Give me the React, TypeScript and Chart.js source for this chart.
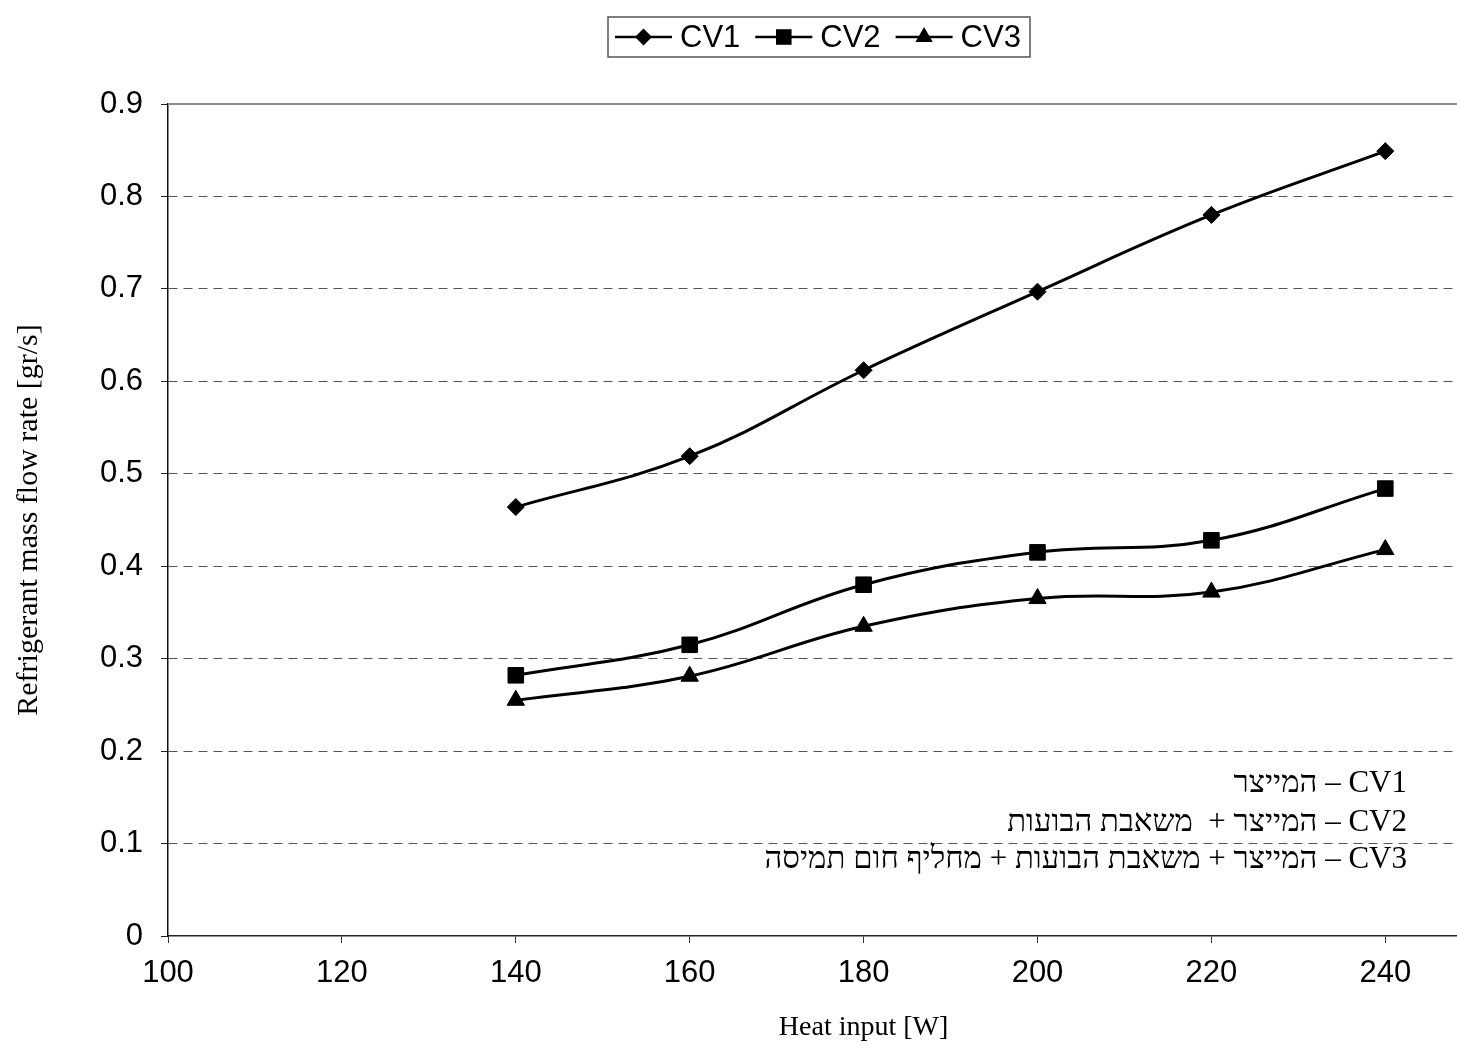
import React, { useEffect, useRef } from 'react';
import { Chart, registerables } from 'chart.js';

Chart.register(...registerables);

// ---- data ----
const heatInput = [140, 160, 180, 200, 220, 240];
const cv1 = [0.464, 0.519, 0.612, 0.697, 0.78, 0.849];
const cv2 = [0.282, 0.315, 0.38, 0.415, 0.428, 0.484];
const cv3 = [0.255, 0.281, 0.335, 0.365, 0.372, 0.418];
const seriesNames = ['CV1', 'CV2', 'CV3'];
const notes = [
  'CV1 – המייצר',
  'CV2 – המייצר +  משאבת הבועות',
  'CV3 – המייצר + משאבת הבועות + מחליף חום תמיסה',
];
const xTitle = 'Heat input [W]';
const yTitle = 'Refrigerant mass flow rate [gr/s]';

const SANS = '"Liberation Sans", Arial, sans-serif';
const SERIF = '"Liberation Serif", "Times New Roman", serif';

type Shape = 'rectRot' | 'rect' | 'triangle';
const shapes: Shape[] = ['rectRot', 'rect', 'triangle'];
const radii = [8.5, 11, 10];

function drawMarker(ctx: CanvasRenderingContext2D, shape: Shape, x: number, y: number, r: number) {
  ctx.beginPath();
  if (shape === 'rectRot') {
    ctx.moveTo(x, y - r);
    ctx.lineTo(x + r, y);
    ctx.lineTo(x, y + r);
    ctx.lineTo(x - r, y);
  } else if (shape === 'rect') {
    const s = Math.SQRT1_2 * r;
    ctx.rect(x - s, y - s, 2 * s, 2 * s);
  } else {
    const h = r;
    ctx.moveTo(x, y - h);
    ctx.lineTo(x + h * 0.866, y + h * 0.5);
    ctx.lineTo(x - h * 0.866, y + h * 0.5);
  }
  ctx.closePath();
  ctx.fill();
}

const decorPlugin = {
  id: 'decor',
  afterDraw(chart: any) {
    const ctx: CanvasRenderingContext2D = chart.ctx;
    const area = chart.chartArea;
    ctx.save();
    // top border of plot
    ctx.strokeStyle = '#8c8c8c';
    ctx.lineWidth = 2;
    ctx.beginPath();
    ctx.moveTo(area.left, area.top);
    ctx.lineTo(area.right, area.top);
    ctx.stroke();

    // legend
    ctx.font = `31px ${SANS}`;
    const boxL = 608, boxT = 17, boxR = 1030, boxB = 57;
    const cy = (boxT + boxB) / 2;
    ctx.strokeStyle = '#555';
    ctx.lineWidth = 1.5;
    ctx.strokeRect(boxL, boxT, boxR - boxL, boxB - boxT);
    let x = boxL + 7;
    ctx.textBaseline = 'middle';
    ctx.textAlign = 'left';
    ctx.fillStyle = '#000';
    seriesNames.forEach((name, i) => {
      ctx.strokeStyle = '#000';
      ctx.lineWidth = 2.5;
      ctx.beginPath();
      ctx.moveTo(x, cy);
      ctx.lineTo(x + 57, cy);
      ctx.stroke();
      drawMarker(ctx, shapes[i], x + 28.5, cy, radii[i]);
      x += 65;
      ctx.fillText(name, x, cy + 1);
      x += ctx.measureText(name).width + 15;
    });

    // annotation text (RTL)
    ctx.font = `31px ${SERIF}`;
    (ctx as any).direction = 'rtl';
    ctx.textAlign = 'right';
    const ys = [784, 823, 860];
    notes.forEach((t, i) => {
      ctx.fillText(t, 1407, ys[i]);
    });
    ctx.restore();
  },
};

export default function App() {
  const ref = useRef<HTMLCanvasElement | null>(null);
  useEffect(() => {
    if (!ref.current) return;
    const mk = (vals: number[], i: number) => ({
      label: seriesNames[i],
      data: heatInput.map((h, k) => ({ x: h, y: vals[k] })),
      borderColor: '#000',
      backgroundColor: '#000',
      borderWidth: 3,
      tension: 0.4,
      pointStyle: shapes[i],
      pointRadius: radii[i],
      pointHoverRadius: radii[i],
      pointBackgroundColor: '#000',
      pointBorderColor: '#000',
      pointBorderWidth: 1,
      fill: false,
    });
    const chart = new Chart(ref.current, {
      type: 'line',
      data: { datasets: [mk(cv1, 0), mk(cv2, 1), mk(cv3, 2)] },
      options: {
        animation: false,
        responsive: false,
        maintainAspectRatio: false,
        layout: { padding: { top: 104, left: 0, right: 40.8, bottom: 0 } },
        plugins: { legend: { display: false }, tooltip: { enabled: false } },
        scales: {
          x: {
            type: 'linear',
            min: 100,
            max: 260,
            ticks: { stepSize: 20, padding: 12, color: '#000', font: { family: SANS, size: 31 } },
            grid: { drawOnChartArea: false, drawTicks: true, tickLength: 7, tickColor: '#333', color: '#333' },
            border: { color: '#222', width: 1.5 },
            title: { display: true, text: xTitle, color: '#000', font: { family: SERIF, size: 28 }, padding: { top: 0, bottom: 1 } },
            afterFit: (s: any) => { s.height = 109; },
          },
          y: {
            min: 0,
            max: 0.9,
            ticks: { stepSize: 0.1, padding: 18, color: '#000', font: { family: SANS, size: 31 } },
            grid: {
              drawTicks: true,
              tickLength: 7,
              tickColor: '#222',
              tickBorderDash: [],
              color: (c: any) => (c.tick && (c.tick.value <= 0.0001 || c.tick.value >= 0.8999) ? 'rgba(0,0,0,0)' : '#555'),
              borderDash: [9, 6],
            } as any,
            border: { color: '#111', width: 1.5, dash: [9, 6] } as any,
            title: { display: true, text: yTitle, color: '#000', font: { family: SERIF, size: 30 }, padding: { top: 11, bottom: 0 } },
            afterFit: (s: any) => { s.width = 168; },
          },
        },
      } as any,
      plugins: [decorPlugin],
    });
    return () => chart.destroy();
  }, []);
  return (
    <div style={{ position: 'fixed', left: 0, top: 0, width: 1457, height: 1045, overflow: 'hidden', background: '#fff' }}>
      <canvas ref={ref} width={1600} height={1045} style={{ width: 1600, height: 1045, display: 'block' }} />
    </div>
  );
}
